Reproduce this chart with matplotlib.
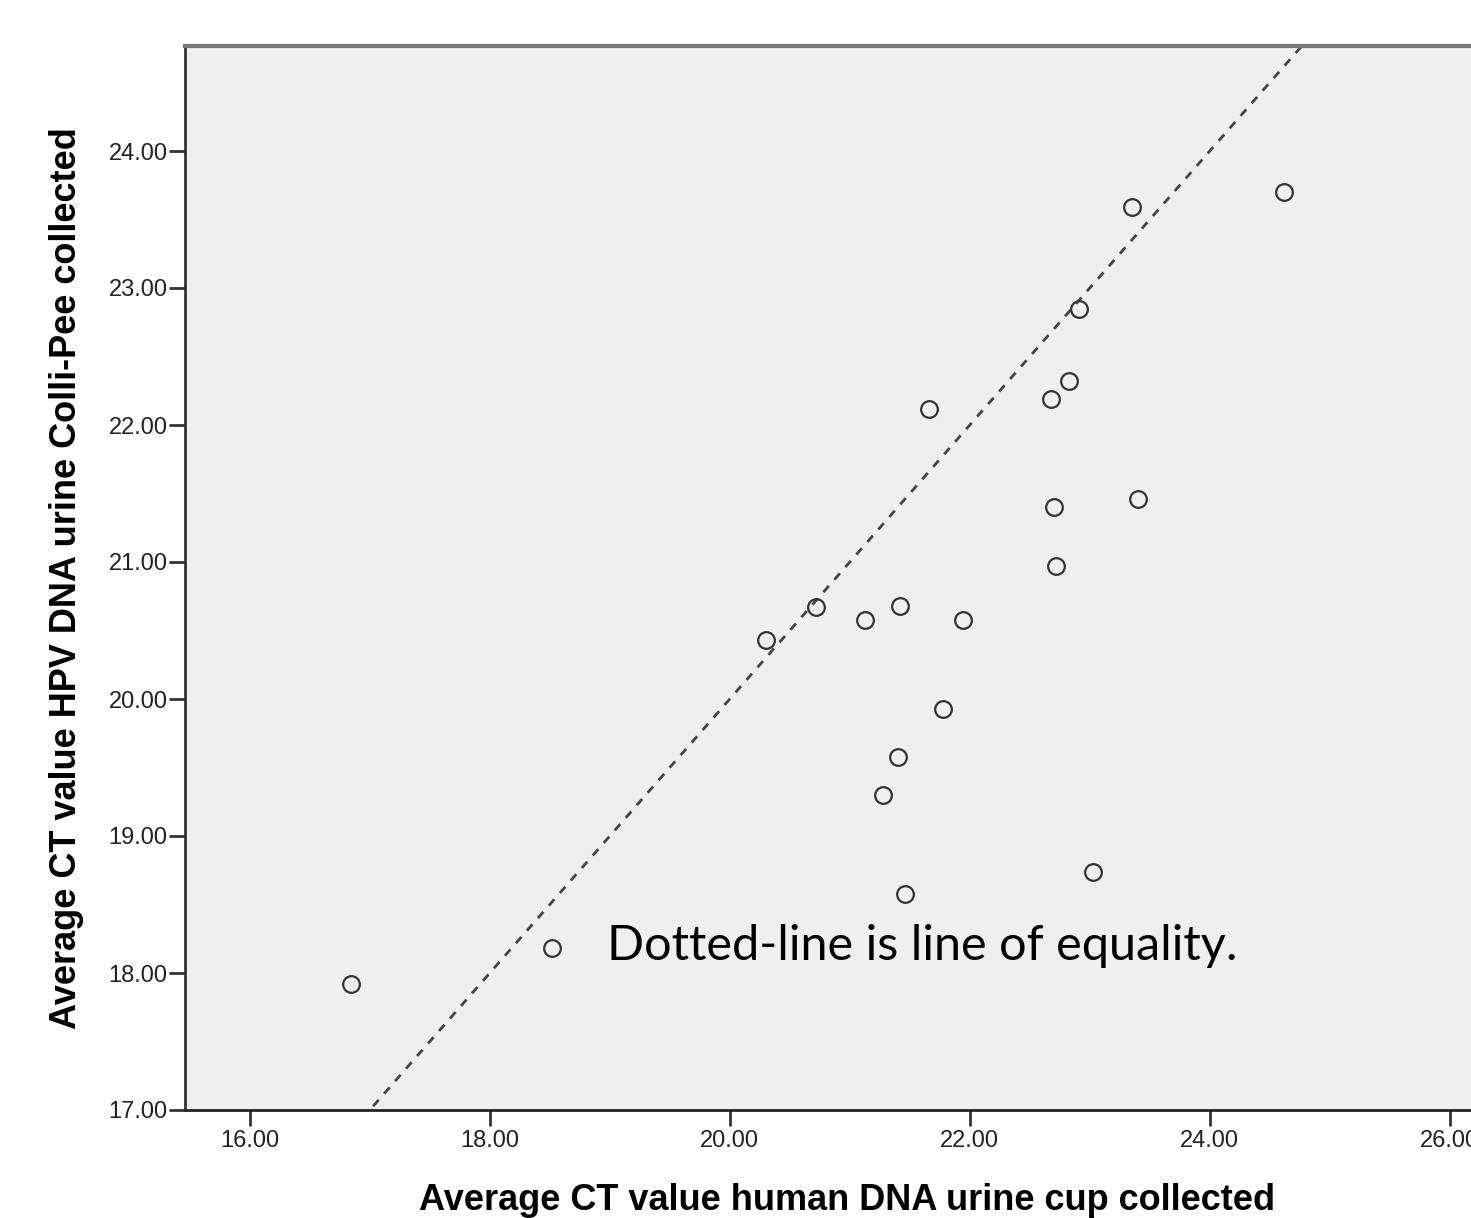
import matplotlib
matplotlib.use("Agg")
import matplotlib.pyplot as plt

# average CT values
ct_cup = [16.84, 18.52, 20.30, 20.72, 21.13, 21.42, 21.94, 21.78, 21.40, 21.28,
          21.46, 23.03, 21.66, 22.68, 22.83, 22.91, 23.35, 24.62, 22.70, 23.40, 22.72]
ct_colli = [17.92, 18.18, 20.43, 20.67, 20.58, 20.68, 20.58, 19.93, 19.58, 19.30,
            18.58, 18.74, 22.12, 22.19, 22.32, 22.85, 23.59, 23.70, 21.40, 21.46, 20.97]
x_ticks = [16, 18, 20, 22, 24, 26]
y_ticks = [17, 18, 19, 20, 21, 22, 23, 24]

fig = plt.figure(figsize=(14.71, 12.18), dpi=100)
ax = fig.add_axes([185 / 1471, 108 / 1218, 1325 / 1471, 1064 / 1218])
ax.set_facecolor("#efefef")

ax.set_xlim(15.46, 15.46 + 1325 / 120)
ax.set_ylim(17, 17 + 1064 / 137)

# line of equality
ax.plot([15, 27], [15, 27], linestyle=(0, (3, 3)), color="#444444", linewidth=2)

ax.plot(ct_cup, ct_colli, linestyle="none", marker="o", markersize=12,
        markerfacecolor="none", markeredgecolor="#333333", markeredgewidth=1.6)

ax.text(18.98, 18.2, "Dotted-line is line of equality.", fontsize=35,
        family="Lato", va="center", ha="left", color="black")

ax.set_xticks(x_ticks)
ax.set_xticklabels(["%.2f" % v for v in x_ticks])
ax.set_yticks(y_ticks)
ax.set_yticklabels(["%.2f" % v for v in y_ticks])
ax.tick_params(direction="out", length=11.5, width=2, color="#333333",
               labelsize=17, labelcolor="#222222")
ax.tick_params(axis="x", pad=3)
ax.tick_params(axis="y", pad=1)
for lab in ax.get_xticklabels() + ax.get_yticklabels():
    lab.set_family("Liberation Sans")

ax.spines["left"].set_color("#333333")
ax.spines["left"].set_linewidth(2)
ax.spines["bottom"].set_color("#222222")
ax.spines["bottom"].set_linewidth(2)
ax.spines["top"].set_color("#777777")
ax.spines["top"].set_linewidth(3)
ax.spines["right"].set_visible(False)

ax.set_xlabel("Average CT value human DNA urine cup collected", fontsize=26,
              fontweight="bold", family="Liberation Sans", labelpad=22)
ax.set_ylabel("Average CT value HPV DNA urine Colli-Pee collected", fontsize=26,
              fontweight="bold", family="Liberation Sans", labelpad=18)

plt.savefig("out.png", dpi=100)
